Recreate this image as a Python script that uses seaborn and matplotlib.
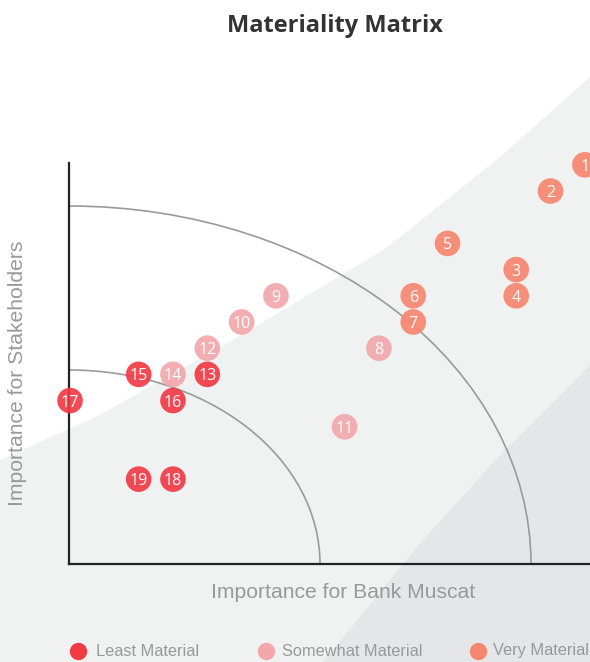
import matplotlib
matplotlib.use("Agg")
import matplotlib.pyplot as plt
from matplotlib.patches import Arc, Polygon
from matplotlib.lines import Line2D
import seaborn as sns
import pandas as pd

# Materiality topics: id, importance for the bank (x), importance for stakeholders (y)
topic_ids = list(range(1, 20))
bank_scores = [15, 14, 13, 13, 11, 10, 10, 9, 6, 5, 8, 4, 4, 3, 2, 3, 0, 3, 2]
stakeholder_scores = [15, 14, 11, 10, 12, 10, 9, 8, 10, 9, 5, 8, 7, 7, 7, 6, 6, 3, 3]
materiality = [
    "Very Material", "Very Material", "Very Material", "Very Material",
    "Very Material", "Very Material", "Very Material",
    "Somewhat Material", "Somewhat Material", "Somewhat Material",
    "Somewhat Material", "Somewhat Material",
    "Least Material", "Somewhat Material",
    "Least Material", "Least Material", "Least Material",
    "Least Material", "Least Material",
]

categories = ["Least Material", "Somewhat Material", "Very Material"]
category_colors = ["#f23a45", "#f3a7ab", "#f7866f"]

df = pd.DataFrame({
    "id": topic_ids,
    "bank": bank_scores,
    "stakeholders": stakeholder_scores,
    "materiality": materiality,
})

sns.set_theme(style="white")
plt.rcParams["font.family"] = ["Liberation Sans", "DejaVu Sans"]

W, H = 590, 662
fig = plt.figure(figsize=(W / 100, H / 100), dpi=100)
fig.patch.set_facecolor("white")


def to_fig(pts):
    return [(x / W, 1 - y / H) for x, y in pts]


# decorative background bands
light_band = [(0, 460), (100, 415), (250, 330), (383, 250), (400, 237),
              (500, 157), (590, 77), (590, 662), (0, 662)]
dark_band = [(590, 365), (500, 455), (423, 540), (323, 662), (590, 662)]
fig.patches.append(Polygon(to_fig(light_band), closed=True, transform=fig.transFigure,
                           facecolor="#f0f1f1", edgecolor="none", zorder=-2))
fig.patches.append(Polygon(to_fig(dark_band), closed=True, transform=fig.transFigure,
                           facecolor="#e5e6e8", edgecolor="none", zorder=-1))

ax = fig.add_axes([69 / W, (H - 564) / H, 521 / W, 401 / H])
ax.set_zorder(1)
ax.set_facecolor("none")
ax.set_xlim(-0.03, 15.15)
ax.set_ylim(-0.24, 15.07)

# quarter-ring guides drawn from the axes corner
for rx, ry in [(251 / 521, 194 / 401), (462 / 521, 358 / 401)]:
    ax.add_patch(Arc((0, 0), 2 * rx, 2 * ry, theta1=0, theta2=90,
                     transform=ax.transAxes, color="#9a9a9a", lw=1.2, zorder=1))

palette = dict(zip(categories, category_colors))
sns.scatterplot(data=df, x="bank", y="stakeholders", hue="materiality",
                hue_order=categories, palette=palette, s=340, alpha=0.92,
                edgecolor="none", legend=False, clip_on=False, zorder=3, ax=ax)

for _, row in df.iterrows():
    ax.text(row["bank"], row["stakeholders"], str(row["id"]), ha="center",
            va="center_baseline", color="white", fontsize=11.5,
            family=["Open Sans", "DejaVu Sans"], zorder=4, clip_on=False)

for side in ["top", "right"]:
    ax.spines[side].set_visible(False)
for side in ["left", "bottom"]:
    ax.spines[side].set_color("#222222")
    ax.spines[side].set_linewidth(1.6)
    ax.spines[side].set_zorder(2)
ax.set_xticks([])
ax.set_yticks([])

ax.set_xlabel("Importance for Bank Muscat", fontsize=15.2, color="#999999")
ax.xaxis.set_label_coords((343 - 69) / 521, (564 - 593) / 401)
ax.xaxis.label.set_va("center")
ax.set_ylabel("Importance for Stakeholders", fontsize=15.2, color="#999999")
ax.yaxis.set_label_coords((18 - 69) / 521, (564 - 373) / 401)
ax.yaxis.label.set_va("center")

fig.text(335 / W, 1 - 26 / H, "Materiality Matrix", ha="center", va="center",
         fontsize=17, fontweight="bold", color="#333333",
         family=["Open Sans", "DejaVu Sans"])

# legend row along the bottom
legend_marker_x = [78, 266, 478]
legend_text_x = [96, 282, 493]
legend_y = 651
for label, color, mx, tx in zip(categories, category_colors, legend_marker_x, legend_text_x):
    fig.add_artist(Line2D([mx / W], [1 - legend_y / H], transform=fig.transFigure,
                          marker="o", linestyle="none", markersize=12.5,
                          markerfacecolor=color, markeredgecolor="none"))
    fig.text(tx / W, 1 - legend_y / H, label, ha="left", va="center",
             fontsize=11.8, color="#999999")

fig.savefig("out.png", dpi=100)
